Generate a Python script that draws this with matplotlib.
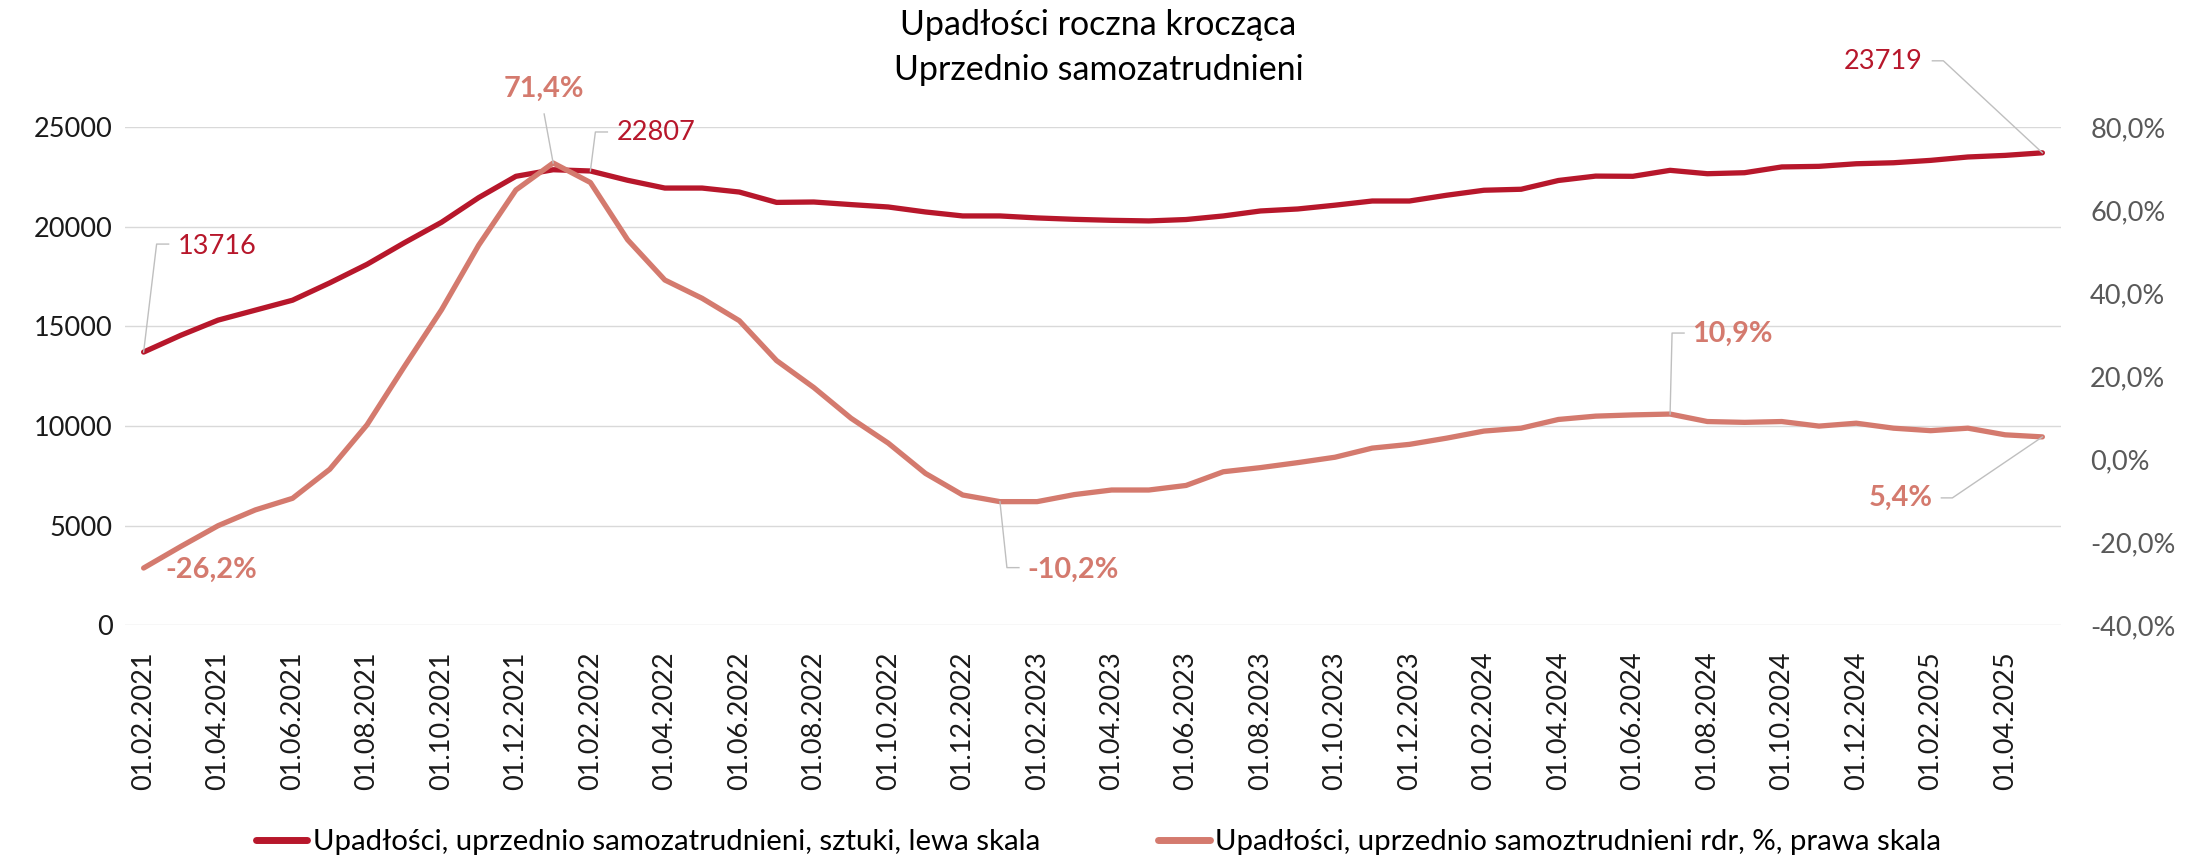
import matplotlib
matplotlib.use("Agg")
import matplotlib.pyplot as plt
import matplotlib.transforms as mtransforms
from matplotlib import font_manager
from matplotlib.lines import Line2D
import pandas as pd

plt.rcParams['font.family'] = ['Lato', 'DejaVu Sans']

# miesiące: 01.02.2021 - 01.05.2025
months = pd.date_range('2021-02-01', periods=52, freq='MS').strftime('%d.%m.%Y').tolist()

# upadłości (suma krocząca 12m), sztuki
bankruptcies = [
    13716, 14560, 15320, 15820, 16320, 17190, 18120, 19200, 20230, 21470,
    22540, 22870, 22807, 22340, 21950, 21950, 21750, 21230, 21250, 21120,
    21000, 20750, 20550, 20550, 20450, 20380, 20330, 20300, 20370, 20550,
    20800, 20900, 21090, 21300, 21300, 21590, 21840, 21890, 22330, 22550,
    22540, 22840, 22670, 22720, 23010, 23040, 23170, 23220, 23340, 23510,
    23590, 23719,
]

# dynamika r/r, %
yoy = [
    -26.2, -21.0, -16.0, -12.2, -9.4, -2.4, 8.3, 22.3, 36.0, 51.6,
    64.9, 71.4, 66.7, 52.9, 43.2, 38.8, 33.4, 23.8, 17.3, 9.9,
    3.9, -3.4, -8.6, -10.2, -10.2, -8.5, -7.4, -7.4, -6.3, -3.0,
    -2.0, -0.8, 0.5, 2.7, 3.6, 5.1, 6.8, 7.5, 9.6, 10.4,
    10.7, 10.9, 9.1, 8.9, 9.1, 8.0, 8.7, 7.5, 6.9, 7.5,
    5.9, 5.4,
]

left_ticks = [0, 5000, 10000, 15000, 20000, 25000]
right_ticks = [-40, -20, 0, 20, 40, 60, 80]

DARK = '#B7172B'
LIGHT = '#D47A6E'
LEADER = '#BFBFBF'
FS = 19.5

# pogrubione etykiety: Lato Bold, jeśli jest, w przeciwnym razie Roboto
has_lato_bold = any(f.name == 'Lato' and f.weight in (700, 'bold')
                    for f in font_manager.fontManager.ttflist)
BOLD_FAMILY = ['Lato'] if has_lato_bold else ['Roboto', 'DejaVu Sans']
BOLD_FS = 20.8 if has_lato_bold else 19.5


def pct(v):
    return f"{v:.1f}".replace('.', ',') + '%'


fig = plt.figure(figsize=(21.97, 8.59), dpi=100)
ax = fig.add_axes([125 / 2197, 1 - 625.3 / 859, 1936 / 2197, 498 / 859])
ax2 = ax.twinx()

x = list(range(len(months)))
ax.plot(x, bankruptcies, color=DARK, lw=3.8, solid_joinstyle='round',
        solid_capstyle='round', label='Upadłości, uprzednio samozatrudnieni, sztuki, lewa skala')
ax2.plot(x, yoy, color=LIGHT, lw=3.8, solid_joinstyle='round',
         solid_capstyle='round', label='Upadłości, uprzednio samoztrudnieni rdr, %, prawa skala')

ax.set_xlim(-0.5, len(months) - 0.5)
ax.set_ylim(0, 25000)
ax2.set_ylim(-40, 80)

ax.set_yticks(left_ticks)
ax.set_yticklabels([str(t) for t in left_ticks])
ax2.set_yticks(right_ticks)
ax2.set_yticklabels([pct(t) for t in right_ticks])
ax.set_xticks(x[::2])
ax.set_xticklabels(months[::2], rotation=90, va='top', ha='center')

ax.yaxis.grid(True, color='#D9D9D9', lw=1.0)
ax.set_axisbelow(True)
for a in (ax, ax2):
    for s in a.spines.values():
        s.set_visible(False)
    a.tick_params(length=0)
ax.tick_params(axis='y', labelsize=FS, colors='#1a1a1a', pad=9)
ax.tick_params(axis='x', labelsize=FS, colors='#1a1a1a', pad=19)
ax2.tick_params(axis='y', labelsize=FS, colors='#595959', pad=21)


def callout(axis, i, val, text, color, offset, path=None, ha='left', bold=False):
    style = dict(fontsize=BOLD_FS, fontweight='bold', family=BOLD_FAMILY) if bold else dict(fontsize=FS)
    axis.annotate(text, xy=(i, val), xytext=offset, textcoords='offset pixels',
                  ha=ha, va='center', color=color, **style)
    if path:
        base = axis.transData.transform((i, val))
        tr = mtransforms.Affine2D().translate(base[0], base[1])
        pts = [(0, 0)] + path
        fig.add_artist(Line2D([p[0] for p in pts], [p[1] for p in pts],
                              transform=tr, color=LEADER, lw=1.0))


last = len(months) - 1
i_peak = yoy.index(max(yoy))
i_min = yoy.index(min(yoy[12:]))
i_late = 41

callout(ax, 0, bankruptcies[0], str(bankruptcies[0]), DARK, (34, 106),
        [(13, 108), (25, 108)])
callout(ax, 12, bankruptcies[12], str(bankruptcies[12]), DARK, (26, 38),
        [(5, 39), (17, 39)])
callout(ax, last, bankruptcies[last], str(bankruptcies[last]), DARK, (-120, 91),
        [(-99, 92), (-110, 92)], ha='right')

callout(ax2, 0, yoy[0], pct(yoy[0]), LIGHT, (22, -2), bold=True)
callout(ax2, i_peak, yoy[i_peak], pct(yoy[i_peak]), LIGHT, (-9, 74),
        [(-9, 49)], ha='center', bold=True)
callout(ax2, i_min, yoy[i_min], pct(yoy[i_min]), LIGHT, (27, -68),
        [(7, -66), (19, -66)], bold=True)
callout(ax2, i_late, yoy[i_late], pct(yoy[i_late]), LIGHT, (22, 80),
        [(2, 81), (14, 81)], bold=True)
callout(ax2, last, yoy[last], pct(yoy[last]), LIGHT, (-110, -61),
        [(-90, -61), (-101, -61)], ha='right', bold=True)

fig.text(0.5, 1 - 25 / 859, 'Upadłości roczna krocząca', ha='center', va='center',
         fontsize=24.5, color='black')
fig.text(0.5, 1 - 70 / 859, 'Uprzednio samozatrudnieni', ha='center', va='center',
         fontsize=24.5, color='black')

h1, l1 = ax.get_legend_handles_labels()
h2, l2 = ax2.get_legend_handles_labels()
leg = fig.legend(h1 + h2, l1 + l2, loc='center', bbox_to_anchor=(0.5, 1 - 842 / 859),
                 ncol=2, frameon=False, fontsize=21.2, handlelength=1.75,
                 handletextpad=0.2, columnspacing=4.0)
for line in leg.get_lines():
    line.set_linewidth(5)
    line.set_solid_capstyle('round')

fig.savefig('out.png', dpi=100)
